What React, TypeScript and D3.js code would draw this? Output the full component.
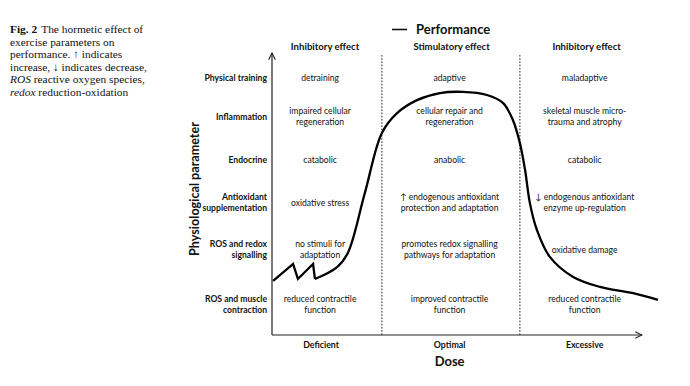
import * as d3 from "d3";

// performance curve (dose 0-100, performance 0-100)
const zigDose = [0.3, 5.7, 7.0, 11.1, 11.6];
const zigPerf = [19.1, 25.1, 19.8, 25.1, 19.8];
const curveDose = [11.6, 17.6, 20.5, 25.1, 29.7, 33.8, 39.2, 45.4, 51.6, 58.1, 62.4, 65.1, 67.0, 68.4, 69.7, 71.6, 75.1, 81.4, 88.6, 97.6, 104.3];
const curvePerf = [19.8, 24.0, 29.0, 50.2, 71.4, 78.4, 83.0, 85.5, 85.9, 84.8, 82.0, 76.0, 67.8, 58.3, 46.6, 37.1, 27.6, 20.5, 17.0, 14.8, 12.4];

const regions = ["Deficient", "Optimal", "Excessive"];
const regionBounds = [29.7, 67.0];
const regionCenters = [13, 48, 84.5];
const effects = ["Inhibitory effect", "Stimulatory effect", "Inhibitory effect"];

const rowLabels = [
  ["Physical training"],
  ["Inflammation"],
  ["Endocrine"],
  ["Antioxidant", "supplementation"],
  ["ROS and redox", "signalling"],
  ["ROS and muscle", "contraction"],
];
const deficientText = [
  ["detraining"],
  ["impaired cellular", "regeneration"],
  ["catabolic"],
  ["oxidative stress"],
  ["no stimuli for", "adaptation"],
  ["reduced contractile", "function"],
];
const optimalText = [
  ["adaptive"],
  ["cellular repair and", "regeneration"],
  ["anabolic"],
  ["\u2191 endogenous antioxidant", "protection and adaptation"],
  ["promotes redox signalling", "pathways for adaptation"],
  ["improved contractile", "function"],
];
const excessiveText = [
  ["maladaptive"],
  ["skeletal muscle micro-", "trauma and atrophy"],
  ["catabolic"],
  ["\u2193 endogenous antioxidant", "enzyme up-regulation"],
  ["oxidative damage"],
  ["reduced contractile", "function"],
];

const W = 690;
const H = 386;
const rowCenters = [78, 116.5, 160, 202.5, 249.5, 304.5];
const font = "Lato, 'Open Sans', sans-serif";

export default function App() {
  const x = d3.scaleLinear().domain([0, 100]).range([272, 642]);
  const y = d3.scaleLinear().domain([0, 100]).range([335, 52]);

  const zig = d3
    .line<number>()
    .x((d) => x(d))
    .y((_, i) => y(zigPerf[i]))
    .curve(d3.curveLinear)(zigDose);
  const smooth = d3
    .line<number>()
    .x((d) => x(d))
    .y((_, i) => y(curvePerf[i]))
    .curve(d3.curveCatmullRom.alpha(0.5))(curveDose);

  const cols = [deficientText, optimalText, excessiveText];
  const lh = 11;

  const multi = (lines: string[], cx: number, cy: number, anchor: string, weight: string, key: string) =>
    lines.map((t, j) => (
      <text
        key={key + j}
        x={cx}
        y={cy + (j - (lines.length - 1) / 2) * lh + 3}
        textAnchor={anchor}
        fontWeight={weight}
        fontSize={8.6}
        fontFamily={font}
        fill="#111"
      >
        {t}
      </text>
    ));

  return (
    <svg width={W} height={H} style={{ position: "absolute", left: 0, top: 0, background: "#fff" }}>
      <defs>
        <marker id="arr" viewBox="0 0 10 10" refX="9" refY="5" markerWidth="7" markerHeight="7" orient="auto">
          <path d="M1,1 L9,5 L1,9" fill="none" stroke="#222" strokeWidth={1.3} />
        </marker>
      </defs>

      {/* caption */}
      <g fontFamily="'Liberation Serif', 'Times New Roman', serif" fontSize={11.4} fill="#111">
        <text x={10} y={33}>
          <tspan fontWeight="bold">Fig. 2</tspan>
          <tspan dx={4}>The hormetic effect of</tspan>
        </text>
        <text x={10} y={45.5}>exercise parameters on</text>
        <text x={10} y={58}>performance. {"\u2191"} indicates</text>
        <text x={10} y={70.5}>increase, {"\u2193"} indicates decrease,</text>
        <text x={10} y={83}>
          <tspan fontStyle="italic">ROS</tspan> reactive oxygen species,
        </text>
        <text x={10} y={95.5}>
          <tspan fontStyle="italic">redox</tspan> reduction-oxidation
        </text>
      </g>

      {/* legend */}
      <line x1={392} x2={407} y1={29.5} y2={29.5} stroke="#111" strokeWidth={1.6} />
      <text x={416} y={34} fontFamily={font} fontWeight="bold" fontSize={13} fill="#111">
        Performance
      </text>

      {/* region dividers */}
      {regionBounds.map((b, i) => (
        <line key={"b" + i} x1={x(b)} x2={x(b)} y1={55} y2={y(0)} stroke="#222" strokeWidth={1} strokeDasharray="1.6,1.6" />
      ))}

      {/* axes */}
      <line x1={x(0)} x2={x(0)} y1={y(0)} y2={y(100) + 1} stroke="#222" strokeWidth={1.2} markerEnd="url(#arr)" />
      <line x1={x(0)} x2={x(100)} y1={y(0)} y2={y(0)} stroke="#222" strokeWidth={1.2} markerEnd="url(#arr)" />

      {/* effect headers */}
      {effects.map((e, i) => (
        <text key={"e" + i} x={x(regionCenters[i]) + (i === 0 ? 5 : 2)} y={50} textAnchor="middle" fontFamily={font} fontWeight="bold" fontSize={9.6} fill="#111">
          {e}
        </text>
      ))}

      {/* row labels */}
      {rowLabels.map((r, i) => multi(r, 267, rowCenters[i], "end", "bold", "r" + i))}

      {/* cell texts */}
      {cols.map((col, c) => col.map((cell, i) => multi(cell, x(regionCenters[c]), rowCenters[i], "middle", "normal", `c${c}_${i}`)))}

      {/* region labels */}
      {regions.map((r, i) => (
        <text key={"g" + i} x={x(regionCenters[i]) + (i === 0 ? 1 : 0)} y={348} textAnchor="middle" fontFamily={font} fontWeight="bold" fontSize={8.8} fill="#111">
          {r}
        </text>
      ))}
      <text x={x(48)} y={366} textAnchor="middle" fontFamily={font} fontWeight="bold" fontSize={13} fill="#111">
        Dose
      </text>
      <text
        transform={`translate(198.5,189) rotate(-90)`}
        textAnchor="middle"
        fontFamily={font}
        fontWeight="bold"
        fontSize={12.6}
        fill="#111"
      >
        Physiological parameter
      </text>

      {/* performance curve */}
      <path d={zig ?? ""} fill="none" stroke="#000" strokeWidth={2.3} strokeLinejoin="miter" />
      <path d={smooth ?? ""} fill="none" stroke="#000" strokeWidth={2.3} />
    </svg>
  );
}
